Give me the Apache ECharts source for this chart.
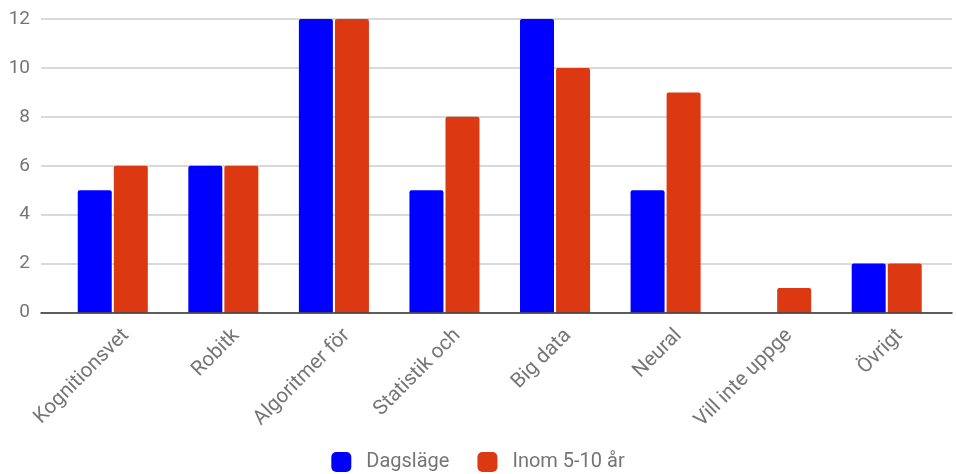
<!DOCTYPE html>
<html>
<head>
<meta charset="utf-8">
<script src="https://cdn.jsdelivr.net/npm/echarts@6/dist/echarts.min.js"></script>
<style>
  html, body { margin: 0; padding: 0; background: #fff; }
  #chart { width: 956px; height: 474px; }
</style>
</head>
<body>
<div id="chart"></div>
<script>
// Kunskapsområden: antal svar idag och om 5-10 år
const categories = ['Kognitionsvet', 'Robitk', 'Algoritmer för', 'Statistik och', 'Big data', 'Neural', 'Vill inte uppge', 'Övrigt'];
const dagslage = [5, 6, 12, 5, 12, 5, 0, 2];
const inom5till10 = [6, 6, 12, 8, 10, 9, 1, 2];
const yTicks = [0, 2, 4, 6, 8, 10, 12];

const textColor = '#757575';
const fontFamily = 'Roboto, sans-serif';
const plotTop = 19, plotBottom = 161.5;
const labelShift = 13;

const chart = echarts.init(document.getElementById('chart'), null, { renderer: 'canvas' });

chart.setOption({
  animation: false,
  textStyle: { fontFamily },
  legend: {
    top: 447,
    left: 'center',
    itemWidth: 20,
    itemHeight: 20,
    itemGap: 28,
    icon: 'roundRect',
    textStyle: { color: textColor, fontSize: 20, fontFamily, padding: [0, 0, 0, 10] },
    data: ['Dagsläge', 'Inom 5-10 år']
  },
  grid: [
    // gridlines and baseline
    { left: 41, right: 4, top: plotTop, bottom: plotBottom, containLabel: false },
    // bars
    { left: 57.5, right: 14, top: plotTop, bottom: plotBottom, containLabel: false },
    // category labels, nudged right of the bar groups
    { left: 57.5 + labelShift, right: 14 - labelShift, top: plotTop, bottom: plotBottom, containLabel: false }
  ],
  xAxis: [
    { gridIndex: 0, type: 'category', data: [''], axisLine: { show: true, lineStyle: { color: '#333', width: 1.5 } },
      axisTick: { show: false }, axisLabel: { show: false }, z: 5 },
    { gridIndex: 1, type: 'category', data: categories, axisLine: { show: false },
      axisTick: { show: false }, axisLabel: { show: false } },
    { gridIndex: 2, type: 'category', data: categories, axisLine: { show: false },
      axisTick: { show: false },
      axisLabel: { show: true, interval: 0, rotate: 45, margin: 20, color: textColor, fontSize: 20.5, fontFamily } }
  ],
  yAxis: [
    { gridIndex: 0, type: 'value', min: 0, max: 12, interval: 2,
      axisLine: { show: false }, axisTick: { show: false },
      axisLabel: { color: textColor, fontSize: 19, margin: 11, fontFamily,
        formatter: v => yTicks.includes(v) ? String(v) : '' },
      splitLine: { show: true, lineStyle: { color: '#cccccc', width: 1.5 } } },
    { gridIndex: 1, type: 'value', min: 0, max: 12, interval: 2, show: false, splitLine: { show: false } },
    { gridIndex: 2, type: 'value', min: 0, max: 12, interval: 2, show: false, splitLine: { show: false } }
  ],
  series: [
    { name: 'Dagsläge', type: 'bar', xAxisIndex: 1, yAxisIndex: 1, data: dagslage,
      barWidth: 34, barGap: '6%', itemStyle: { color: '#0000ff', borderRadius: [2, 2, 0, 0] } },
    { name: 'Inom 5-10 år', type: 'bar', xAxisIndex: 1, yAxisIndex: 1, data: inom5till10,
      barWidth: 34, barGap: '6%', itemStyle: { color: '#dc3912', borderRadius: [2, 2, 0, 0] } }
  ]
});
</script>
</body>
</html>
